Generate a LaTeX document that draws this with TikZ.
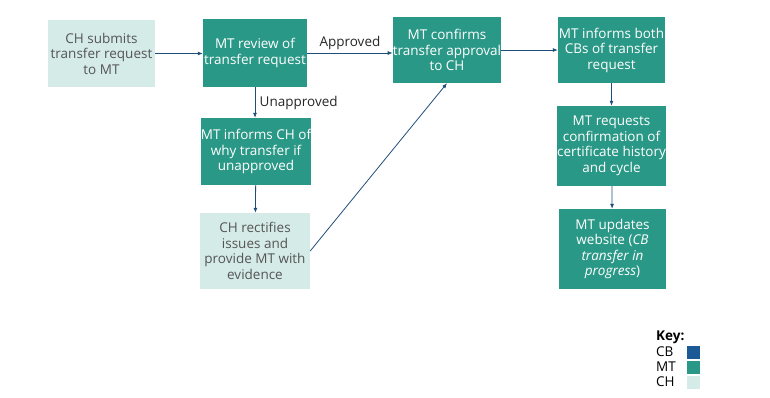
\documentclass[tikz,border=0pt]{standalone}
\usepackage{fontspec}
\setmainfont{Open Sans}
\usetikzlibrary{positioning,arrows.meta}
\definecolor{mtteal}{HTML}{2A9886}
\definecolor{chlight}{HTML}{D5EBE8}
\definecolor{cbblue}{HTML}{1B5A95}
\definecolor{linkblue}{HTML}{1F4E79}
\definecolor{chtext}{HTML}{555555}

\begin{document}
\begin{tikzpicture}[
  x=1pt, y=-1pt,
  every node/.style={font=\fontsize{13.5}{15.5}\selectfont},
  mtbox/.style={fill=mtteal, text=white, align=center, inner sep=0pt},
  chbox/.style={fill=chlight, text=chtext, align=center, inner sep=0pt},
  arrow/.style={-{Latex[length=5pt,width=4pt]}, draw=linkblue, line width=0.8pt},
  lbl/.style={text=black!85}
]
\useasboundingbox (0,0) rectangle (770,397);

\node[chbox, minimum width=107pt, minimum height=67pt] (submit) at (101.5,53.5) {CH submits\\transfer request\\to MT};
\node[mtbox, minimum width=104pt, minimum height=68pt] (review) at (255,53) {MT review of\\transfer request};
\node[mtbox, minimum width=106pt, minimum height=66pt] (confirm) at (447,50) {MT confirms\\transfer approval\\to CH};
\node[mtbox, minimum width=107pt, minimum height=66pt] (informcb) at (611.5,50) {MT informs both\\CBs of transfer\\request};
\node[mtbox, minimum width=106pt, minimum height=67pt] (informch) at (256,151.5) {MT informs CH of\\why transfer if\\unapproved};
\node[chbox, minimum width=110pt, minimum height=76pt] (rectify) at (255,251) {CH rectifies\\issues and\\provide MT with\\evidence};
\node[mtbox, minimum width=109pt, minimum height=80pt] (history) at (611.5,146) {MT requests\\confirmation of\\certificate history\\and cycle};
\node[mtbox, minimum width=107pt, minimum height=80pt] (website) at (612.5,249) {MT updates\\website (\textit{CB}\\\textit{transfer in}\\\textit{progress})};

% connectors
\draw[arrow] (submit) -- (review.west |- submit);
\draw[arrow] (review.east) -- node[lbl, above=0pt] {Approved} (review.east -| confirm.west);
\draw[arrow] (review.south) -- node[lbl, right=1pt] {Unapproved} (review.south |- informch.north);
\draw[arrow] (informch) -- (rectify);
\draw[arrow] (rectify.east) -- (confirm.south);
\draw[arrow] (confirm) -- (informcb.west |- confirm);
\draw[arrow] (informcb) -- (history);
\draw[arrow] (history) -- (website);

% key
\node[anchor=west, inner sep=0pt, font=\fontsize{13.5}{15.5}\selectfont\bfseries] (keytitle) at (656,337) {Key:};
\node[anchor=west, inner sep=0pt] (keycb) at (656,352) {CB};
\node[anchor=west, inner sep=0pt] (keymt) at (656,367) {MT};
\node[anchor=west, inner sep=0pt] (keych) at (656,382) {CH};
\node[fill=cbblue, minimum size=13pt, inner sep=0pt] (sqcb) at (693,352) {};
\node[fill=mtteal, minimum size=13pt, inner sep=0pt] (sqmt) at (693,367) {};
\node[fill=chlight, minimum size=13pt, inner sep=0pt] (sqch) at (693,382) {};
\end{tikzpicture}
\end{document}
